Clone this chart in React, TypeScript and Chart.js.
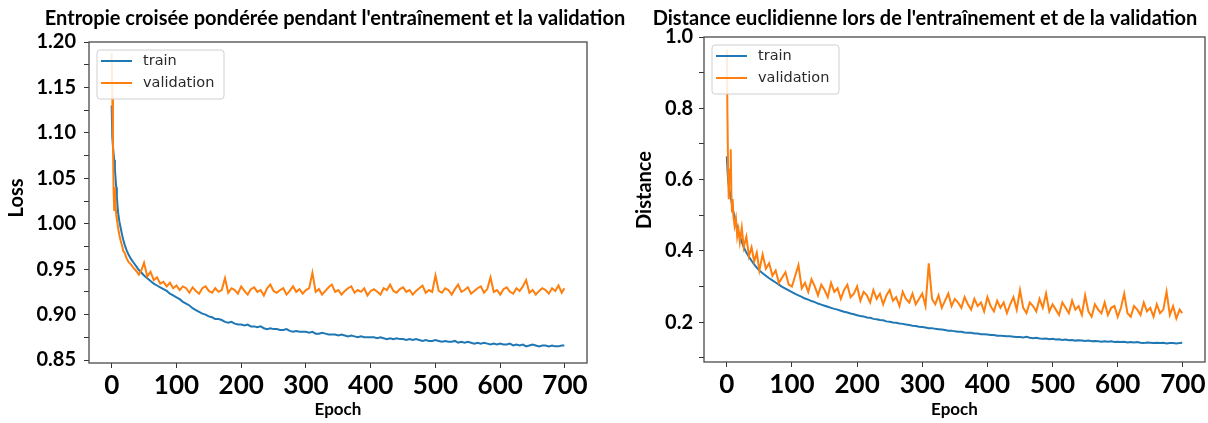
import React, { useEffect, useRef } from "react";
import { Chart, registerables } from "chart.js";
Chart.register(...registerables);

const epochs = [
  0, 1, 2, 3, 4, 5, 6, 7, 8, 9, 10, 12, 14, 16, 18, 20, 23, 26, 30, 34, 38, 42, 46, 50,
  55, 60, 65, 70, 75, 80, 85, 90, 95, 100, 105, 110, 115, 120, 125, 130, 135, 140, 145, 150,
  155, 160, 165, 170, 175, 180, 185, 190, 195, 200, 205, 210, 215, 220, 225, 230, 235, 240, 245, 250,
  255, 260, 265, 270, 275, 280, 285, 290, 295, 300, 305, 310, 315, 320, 325, 330, 335, 340, 345, 350,
  355, 360, 365, 370, 375, 380, 385, 390, 395, 400, 405, 410, 415, 420, 425, 430, 435, 440, 445, 450,
  455, 460, 465, 470, 475, 480, 485, 490, 495, 500, 505, 510, 515, 520, 525, 530, 535, 540, 545, 550,
  555, 560, 565, 570, 575, 580, 585, 590, 595, 600, 605, 610, 615, 620, 625, 630, 635, 640, 645, 650,
  655, 660, 665, 670, 675, 680, 685, 690, 695, 699,
];

const lossTrain = [
  1.13, 1.095, 1.085, 1.077, 1.07, 1.06, 1.05, 1.04, 1.03, 1.02, 1.012,
  1.002, 0.995, 0.988, 0.982, 0.977,
  0.971, 0.966, 0.961, 0.957, 0.953, 0.949, 0.946, 0.943,
  0.940, 0.937, 0.934, 0.932, 0.930, 0.928, 0.926, 0.923, 0.921, 0.919,
  0.917, 0.914, 0.912, 0.910, 0.907, 0.905, 0.903, 0.901, 0.900, 0.898,
  0.897, 0.895, 0.895, 0.894, 0.892, 0.891, 0.892, 0.890, 0.889, 0.889,
  0.888, 0.889, 0.887, 0.887, 0.886, 0.887, 0.885, 0.884, 0.885, 0.884,
  0.884, 0.883, 0.883, 0.884, 0.882, 0.881, 0.882, 0.881, 0.881, 0.881,
  0.880, 0.881, 0.879, 0.879, 0.880, 0.879, 0.878, 0.878, 0.878, 0.877,
  0.878, 0.877, 0.876, 0.877, 0.876, 0.875, 0.876, 0.875, 0.875, 0.875,
  0.875, 0.874, 0.875, 0.874, 0.873, 0.874, 0.873, 0.874, 0.873, 0.873,
  0.872, 0.873, 0.872, 0.873, 0.872, 0.871, 0.872, 0.871, 0.871, 0.872,
  0.871, 0.870, 0.871, 0.870, 0.870, 0.871, 0.869, 0.870, 0.869, 0.870,
  0.869, 0.868, 0.869, 0.868, 0.869, 0.868, 0.867, 0.868, 0.867, 0.868,
  0.867, 0.867, 0.868, 0.866, 0.867, 0.866, 0.867, 0.865, 0.866, 0.867,
  0.866, 0.865, 0.866, 0.866, 0.865, 0.866, 0.865, 0.865, 0.866, 0.866,
];

const lossVal = [
  1.188, 1.14, 1.09, 1.035, 1.015, 1.04, 1.02, 1.01, 1.005, 1.0, 0.995,
  0.987, 0.981, 0.976, 0.97, 0.968,
  0.962, 0.958, 0.955, 0.951, 0.948, 0.944, 0.949, 0.957,
  0.942, 0.947, 0.938, 0.941, 0.934, 0.936, 0.931, 0.935, 0.929, 0.932,
  0.927, 0.931, 0.929, 0.924, 0.930, 0.926, 0.923, 0.929, 0.931, 0.926,
  0.924, 0.929, 0.925, 0.927, 0.940, 0.924, 0.929, 0.927, 0.923, 0.931,
  0.926, 0.922, 0.928, 0.930, 0.925, 0.927, 0.921, 0.929, 0.933, 0.926,
  0.924, 0.927, 0.929, 0.922, 0.926, 0.931, 0.925, 0.928, 0.923, 0.927,
  0.929, 0.946, 0.925, 0.928, 0.922, 0.926, 0.930, 0.933, 0.925, 0.927,
  0.922, 0.926, 0.929, 0.931, 0.924, 0.927, 0.925, 0.929, 0.921, 0.926,
  0.928, 0.925, 0.922, 0.929, 0.927, 0.933, 0.926, 0.924, 0.928, 0.930,
  0.925, 0.927, 0.922, 0.926, 0.929, 0.932, 0.924, 0.927, 0.925, 0.943,
  0.926, 0.924, 0.929, 0.927, 0.922, 0.928, 0.933, 0.925, 0.927, 0.930,
  0.923, 0.926, 0.929, 0.931, 0.924, 0.928, 0.941, 0.925, 0.927, 0.922,
  0.928, 0.930, 0.925, 0.923, 0.929, 0.926, 0.931, 0.938, 0.924, 0.927,
  0.922, 0.926, 0.929, 0.927, 0.923, 0.929, 0.926, 0.932, 0.924, 0.929,
];

const distTrain = [
  0.665, 0.63, 0.60, 0.585, 0.57, 0.56, 0.55, 0.54, 0.53, 0.52, 0.51,
  0.495, 0.48, 0.465, 0.452, 0.44,
  0.425, 0.41, 0.395, 0.383, 0.372, 0.362, 0.353, 0.345,
  0.337, 0.330, 0.323, 0.317, 0.311, 0.305, 0.299, 0.294, 0.289, 0.284,
  0.279, 0.275, 0.271, 0.266, 0.263, 0.259, 0.256, 0.252, 0.249, 0.246,
  0.243, 0.240, 0.237, 0.235, 0.232, 0.229, 0.227, 0.224, 0.222, 0.219,
  0.217, 0.216, 0.213, 0.212, 0.209, 0.208, 0.206, 0.205, 0.202, 0.201,
  0.199, 0.198, 0.196, 0.195, 0.193, 0.192, 0.190, 0.189, 0.187, 0.186,
  0.185, 0.183, 0.183, 0.181, 0.180, 0.179, 0.178, 0.176, 0.176, 0.174,
  0.173, 0.173, 0.171, 0.170, 0.170, 0.168, 0.168, 0.166, 0.166, 0.165,
  0.164, 0.164, 0.162, 0.162, 0.161, 0.160, 0.160, 0.159, 0.158, 0.158,
  0.157, 0.159, 0.156, 0.155, 0.156, 0.154, 0.153, 0.154, 0.152, 0.153,
  0.151, 0.152, 0.150, 0.151, 0.149, 0.150, 0.148, 0.149, 0.148, 0.147,
  0.148, 0.146, 0.147, 0.146, 0.145, 0.146, 0.145, 0.146, 0.144, 0.145,
  0.144, 0.145, 0.143, 0.144, 0.143, 0.144, 0.142, 0.141, 0.143, 0.142,
  0.141, 0.142, 0.141, 0.142, 0.140, 0.141, 0.141, 0.140, 0.141, 0.142,
];

const distVal = [
  0.965, 0.78, 0.62, 0.545, 0.63, 0.60, 0.685, 0.56, 0.51, 0.545, 0.50,
  0.47, 0.49, 0.44, 0.46, 0.425,
  0.465, 0.41, 0.44, 0.385, 0.41, 0.37, 0.395, 0.345,
  0.39, 0.35, 0.365, 0.33, 0.345, 0.31, 0.325, 0.34, 0.305, 0.30,
  0.33, 0.36, 0.295, 0.31, 0.285, 0.32, 0.30, 0.275, 0.305, 0.29,
  0.27, 0.31, 0.285, 0.295, 0.265, 0.29, 0.305, 0.27, 0.28, 0.30,
  0.26, 0.285, 0.275, 0.255, 0.29, 0.265, 0.28, 0.25, 0.275, 0.29,
  0.26, 0.27, 0.245, 0.285, 0.265, 0.255, 0.28, 0.25, 0.265, 0.28,
  0.245, 0.365, 0.265, 0.25, 0.275, 0.24, 0.26, 0.28, 0.245, 0.265,
  0.255, 0.24, 0.27, 0.25, 0.235, 0.265, 0.245, 0.255, 0.23, 0.27,
  0.245, 0.23, 0.26, 0.24, 0.255, 0.225, 0.25, 0.27, 0.235, 0.29,
  0.24, 0.225, 0.255, 0.245, 0.23, 0.265, 0.24, 0.28, 0.23, 0.25,
  0.235, 0.22, 0.255, 0.24, 0.225, 0.26, 0.235, 0.245, 0.22, 0.275,
  0.23, 0.215, 0.25, 0.235, 0.225, 0.255, 0.22, 0.24, 0.245, 0.215,
  0.24, 0.28, 0.225, 0.215, 0.245, 0.235, 0.22, 0.255, 0.23, 0.24,
  0.215, 0.25, 0.225, 0.235, 0.285, 0.22, 0.245, 0.21, 0.235, 0.225,
];

const epochTicks = [0, 100, 200, 300, 400, 500, 600, 700];
const epochTickLabels = ["0", "100", "200", "300", "400", "500", "600", "700"];

const lossTicks = [0.85, 0.875, 0.9, 0.925, 0.95, 0.975, 1.0, 1.025, 1.05, 1.075, 1.1, 1.125, 1.15, 1.175, 1.2];
const lossTickLabels = ["0.85", "", "0.90", "", "0.95", "", "1.00", "", "1.05", "", "1.10", "", "1.15", "", "1.20"];

const distTicks = [0.1, 0.2, 0.3, 0.4, 0.5, 0.6, 0.7, 0.8, 0.9, 1.0];
const distTickLabels = ["", "0.2", "", "0.4", "", "0.6", "", "0.8", "", "1.0"];

const seriesNames = ["train", "validation"];
const seriesColors = ["#1f77b4", "#ff7f0e"];

const FONT = "Lato, 'Open Sans', sans-serif";

type Spec = {
  title: string;
  titleX: number;
  yTitle: string;
  yTitleX: number;
  yTitleY: number;
  train: number[];
  val: number[];
  yMin: number;
  yMax: number;
  yTicks: number[];
  yLabels: string[];
  yWidth: number;
  xHeight: number;
  padTop: number;
  padRight: number;
  yTickPadding: number;
};

function overlayPlugin(spec: Spec) {
  return {
    id: "overlay",
    afterDatasetsDraw(chart: any) {
      const { ctx, chartArea } = chart;
      ctx.save();
      ctx.strokeStyle = "#4a4a4a";
      ctx.lineWidth = 1.3;
      ctx.strokeRect(chartArea.left, chartArea.top, chartArea.right - chartArea.left, chartArea.bottom - chartArea.top);
      ctx.restore();
    },
    afterDraw(chart: any) {
      const { ctx, chartArea } = chart;
      ctx.save();
      // chart title
      ctx.fillStyle = "#000";
      ctx.font = `bold 20px ${FONT}`;
      ctx.textAlign = "center";
      ctx.textBaseline = "middle";
      ctx.fillText(spec.title, spec.titleX, 19);
      // y axis title
      ctx.save();
      ctx.translate(spec.yTitleX, spec.yTitleY);
      ctx.rotate(-Math.PI / 2);
      ctx.font = `bold 20px ${FONT}`;
      ctx.fillText(spec.yTitle, 0, 0);
      ctx.restore();
      // legend
      const bx = chartArea.left + 8;
      const by = chartArea.top + 8;
      const bw = 127;
      const bh = 49;
      ctx.fillStyle = "rgba(255,255,255,0.85)";
      ctx.strokeStyle = "#d0d0d0";
      ctx.lineWidth = 1;
      ctx.beginPath();
      const r = 3;
      ctx.moveTo(bx + r, by);
      ctx.lineTo(bx + bw - r, by);
      ctx.quadraticCurveTo(bx + bw, by, bx + bw, by + r);
      ctx.lineTo(bx + bw, by + bh - r);
      ctx.quadraticCurveTo(bx + bw, by + bh, bx + bw - r, by + bh);
      ctx.lineTo(bx + r, by + bh);
      ctx.quadraticCurveTo(bx, by + bh, bx, by + bh - r);
      ctx.lineTo(bx, by + r);
      ctx.quadraticCurveTo(bx, by, bx + r, by);
      ctx.closePath();
      ctx.fill();
      ctx.stroke();
      ctx.font = `14.5px 'DejaVu Sans', sans-serif`;
      ctx.textAlign = "left";
      ctx.textBaseline = "middle";
      seriesNames.forEach((name, i) => {
        const y = by + 11 + i * 22;
        ctx.strokeStyle = seriesColors[i];
        ctx.lineWidth = 2;
        ctx.beginPath();
        ctx.moveTo(bx + 4, y);
        ctx.lineTo(bx + 35, y);
        ctx.stroke();
        ctx.fillStyle = "#2a2a2a";
        ctx.fillText(name, bx + 46, y);
      });
      ctx.restore();
    },
  };
}

function buildConfig(spec: Spec): any {
  return {
    type: "line",
    data: {
      datasets: [
        {
          label: seriesNames[0],
          data: epochs.map((e, i) => ({ x: e, y: spec.train[i] })),
          borderColor: seriesColors[0],
          backgroundColor: seriesColors[0],
          borderWidth: 2,
          pointRadius: 0,
          tension: 0,
          order: 1,
        },
        {
          label: seriesNames[1],
          data: epochs.map((e, i) => ({ x: e, y: spec.val[i] })),
          borderColor: seriesColors[1],
          backgroundColor: seriesColors[1],
          borderWidth: 2,
          pointRadius: 0,
          tension: 0,
          order: 0,
        },
      ],
    },
    options: {
      animation: false,
      responsive: false,
      events: [],
      layout: { padding: { top: spec.padTop, right: spec.padRight, left: 0, bottom: 0 } },
      plugins: {
        legend: { display: false },
        tooltip: { enabled: false },
        title: { display: false },
      },
      scales: {
        x: {
          type: "linear",
          min: -35,
          max: 734,
          afterBuildTicks: (s: any) => {
            s.ticks = epochTicks.map((v) => ({ value: v }));
          },
          afterFit: (s: any) => {
            s.height = spec.xHeight;
          },
          grid: { drawOnChartArea: false, drawTicks: true, tickLength: 5, color: "#333", lineWidth: 1 },
          border: { display: false },
          ticks: {
            autoSkip: false,
            maxRotation: 0,
            padding: 2,
            color: "#000",
            font: { family: FONT, weight: "bold", size: 26 },
            callback: (_v: any, i: number) => epochTickLabels[i],
          },
          title: {
            display: true,
            text: "Epoch",
            color: "#000",
            font: { family: FONT, weight: "bold", size: 17 },
            padding: { top: 0, bottom: 3 },
          },
        },
        y: {
          type: "linear",
          min: spec.yMin,
          max: spec.yMax,
          afterBuildTicks: (s: any) => {
            s.ticks = spec.yTicks.map((v) => ({ value: v }));
          },
          afterFit: (s: any) => {
            s.width = spec.yWidth;
          },
          grid: { drawOnChartArea: false, drawTicks: true, tickLength: 5, color: "#333", lineWidth: 1 },
          border: { display: false },
          ticks: {
            autoSkip: false,
            padding: spec.yTickPadding,
            color: "#000",
            font: { family: FONT, weight: "bold", size: 20 },
            callback: (_v: any, i: number) => spec.yLabels[i],
          },
          title: { display: false },
        },
      },
    },
    plugins: [overlayPlugin(spec)],
  };
}

const lossSpec: Spec = {
  title: "Entropie croisée pondérée pendant l'entraînement et la validation",
  titleX: 335,
  yTitle: "Loss",
  yTitleX: 17,
  yTitleY: 198,
  train: lossTrain,
  val: lossVal,
  yMin: 0.8467,
  yMax: 1.2,
  yTicks: lossTicks,
  yLabels: lossTickLabels,
  yWidth: 89,
  xHeight: 60,
  padTop: 42,
  padRight: 53,
  yTickPadding: 8,
};

const distSpec: Spec = {
  title: "Distance euclidienne lors de l'entraînement et de la validation",
  titleX: 305,
  yTitle: "Distance",
  yTitleX: 25,
  yTitleY: 190,
  train: distTrain,
  val: distVal,
  yMin: 0.088,
  yMax: 1.0,
  yTicks: distTicks,
  yLabels: distTickLabels,
  yWidth: 84,
  xHeight: 61,
  padTop: 37,
  padRight: 3,
  yTickPadding: 6,
};

function ChartCanvas({ spec, left, width }: { spec: Spec; left: number; width: number }) {
  const ref = useRef<HTMLCanvasElement | null>(null);
  useEffect(() => {
    if (!ref.current) return;
    const chart = new Chart(ref.current, buildConfig(spec));
    return () => chart.destroy();
  }, [spec]);
  return (
    <canvas
      ref={ref}
      width={width}
      height={423}
      style={{ position: "absolute", left, top: 0, width, height: 423 }}
    />
  );
}

export default function App() {
  return (
    <div style={{ position: "fixed", left: 0, top: 0, width: 1208, height: 423, background: "#fff", overflow: "hidden" }}>
      <ChartCanvas spec={lossSpec} left={0} width={640} />
      <ChartCanvas spec={distSpec} left={620} width={588} />
    </div>
  );
}
